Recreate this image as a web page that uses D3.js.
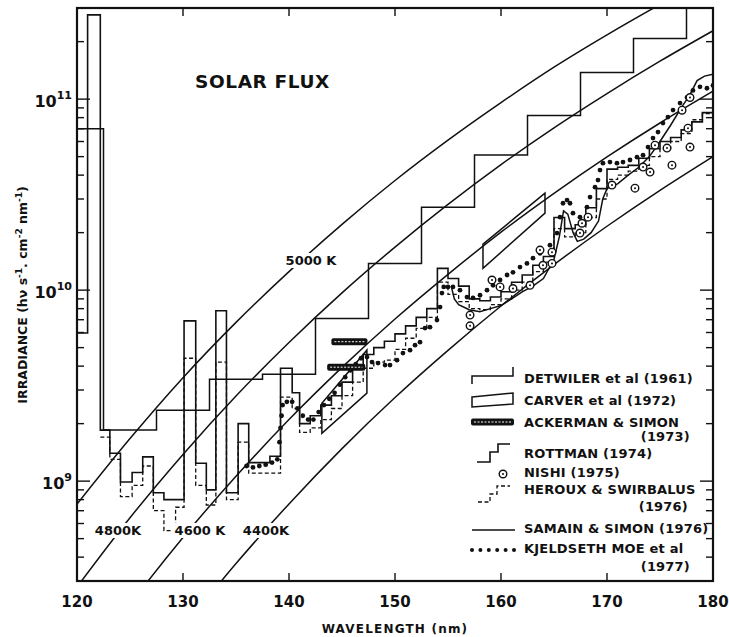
<!DOCTYPE html>
<html>
<head>
<meta charset="utf-8">
<script src="https://cdn.jsdelivr.net/npm/d3@7"></script>
<style>
  body { margin: 0; background: #fff; }
  text { font-family: "DejaVu Sans", "Liberation Sans", sans-serif; fill: #111; }
</style>
</head>
<body>
<svg id="chart" width="729" height="637"></svg>
<script>
// ---- Data (wavelength in nm, irradiance in photons s-1 cm-2 nm-1) ----

// Black-body reference curves
const bbWavelength = [120,125,130,135,140,145,150,155,160,165,170,175,180];
const bb5000 = [7.57e8,1.67e9,3.48e9,6.78e9,1.25e10,2.21e10,3.75e10,6.10e10,9.59e10,1.47e11,2.17e11,3.13e11,4.43e11];
const bb4800 = [2.79e8,6.43e8,1.38e9,2.79e9,5.32e9,9.68e9,1.68e10,2.81e10,4.54e10,7.08e10,1.07e11,1.58e11,2.28e11];
const bb4600 = [9.40e7,2.26e8,5.07e8,1.06e9,2.10e9,3.94e9,7.06e9,1.21e10,2.01e10,3.21e10,4.98e10,7.50e10,1.10e11];
const bb4400 = [2.87e7,7.24e7,1.69e8,3.70e8,7.60e8,1.48e9,2.74e9,4.84e9,8.26e9,1.36e10,2.16e10,3.33e10,5.00e10];

// Detwiler et al (1961): 5 nm bins
const detwilerEdges = [120,122.5,127.5,132.5,137.5,142.5,147.5,152.5,157.5,162.5,167.5,172.5,177.5,180];
const detwilerValues = [7.0e10,1.85e9,2.35e9,3.42e9,3.63e9,7.1e9,1.38e10,2.72e10,5.1e10,8.2e10,1.38e11,2.08e11,3.0e11];

// Carver et al (1972): range boxes, corners as [nm, irradiance]
const carverBox1 = [[143.1,1.78e9],[143.1,2.56e9],[147.35,4.85e9],[147.35,2.89e9]];
const carverBox2 = [[158.3,1.30e10],[158.3,1.74e10],[164.15,3.22e10],[164.15,2.53e10]];

// Ackerman & Simon (1973): [start nm, end nm, irradiance]
const ackermanBars = [[144.0,147.4,5.37e9],[143.6,147.2,3.95e9]];

// Rottman (1974): stepped spectrum
const rottmanEdges = [120,121.0,122.2,123.1,124.1,125.2,126.2,127.2,128.2,130.1,131.2,132.2,133.1,134.1,135.2,136.2,137.2,138.2,139.2,140.3,141.0,
  142,143,144,145,146,147,148,149,150,151,152,153,154,155,156,157,158,159,160,161,162,163,164,165,166,167,168,169,170,171,172,173,174,175,176,177,178,179,180];
const rottmanValues = [5.96e9,2.76e11,1.85e9,1.40e9,0.99e9,1.11e9,1.34e9,0.87e9,0.80e9,6.9e9,1.24e9,0.90e9,7.8e9,0.87e9,2.0e9,1.25e9,1.25e9,1.35e9,3.9e9,2.9e9,2.0e9,
  2.2e9,2.5e9,2.8e9,3.3e9,3.9e9,4.6e9,5.0e9,5.4e9,5.9e9,6.5e9,7.2e9,8.0e9,1.3e10,1.15e10,1.05e10,9.0e9,8.8e9,9.2e9,9.8e9,1.1e10,1.2e10,1.35e10,1.5e10,2.4e10,2.1e10,2.2e10,2.7e10,3.4e10,4.3e10,4.4e10,4.5e10,4.9e10,5.5e10,6.0e10,6.3e10,6.9e10,7.6e10,8.5e10];

// Heroux & Swirbalus (1976): stepped spectrum
const herouxEdges = [122.2,123.1,124.1,125.2,126.2,127.2,128.2,129.3,130.1,131.2,132.2,133.1,134.1,135.2,136.2,139.2,140.3,141.0,
  142,143,144,145,146,147,148,149,150,151,152,153,154,155,156,157,158,159,160,161,162,163,164,165,166,167,168,169,170,171,172,173,174,175,176,177,178,179,180];
const herouxValues = [1.7e9,1.3e9,0.83e9,0.95e9,1.2e9,0.70e9,0.55e9,0.73e9,4.4e9,0.95e9,0.75e9,4.2e9,0.80e9,1.6e9,1.1e9,2.75e9,2.4e9,1.8e9,
  1.9e9,2.1e9,2.4e9,2.8e9,3.3e9,3.9e9,4.2e9,4.3e9,4.9e9,5.6e9,6.3e9,7.2e9,1.1e10,9.5e9,8.7e9,8.0e9,7.9e9,8.4e9,9.0e9,1.0e10,1.1e10,1.25e10,1.4e10,2.1e10,1.9e10,2.0e10,2.4e10,3.0e10,3.8e10,4.0e10,4.2e10,4.5e10,5.0e10,5.5e10,6.0e10,6.6e10,7.8e10,8.4e10];

// Nishi (1975): individual measurements
const nishiPoints = [[157.08,7.4e9],[157.08,6.5e9],[159.15,1.13e10],[159.91,1.04e10],[161.13,1.02e10],[162.74,1.06e10],
  [163.68,1.62e10],[164.81,1.58e10],[163.96,1.35e10],[164.81,1.38e10],[167.45,1.99e10],[167.64,2.24e10],[168.21,2.41e10],
  [170.47,3.55e10],[172.64,3.42e10],[173.40,4.41e10],[174.06,4.15e10],[174.53,5.74e10],[175.66,5.54e10],[176.13,4.51e10],
  [177.08,8.75e10],[177.64,7.05e10],[177.83,1.02e11],[177.83,5.61e10]];

// Samain & Simon (1976): continuous spectrum
const samainPoints = [[155.3,1.05e10],[155.6,9.0e9],[156,8.4e9],[157,7.9e9],[158,7.7e9],[159,8.0e9],[160,8.3e9],[161,9.0e9],
  [162,9.8e9],[163,1.05e10],[164,1.15e10],[165,1.45e10],[165.5,1.9e10],[165.9,2.6e10],[166.3,2.5e10],[166.8,2.0e10],
  [167.2,1.8e10],[167.8,1.85e10],[168.5,2.0e10],[169.2,2.3e10],[169.6,3.0e10],[170,3.4e10],[171,3.6e10],[172,4.0e10],
  [173,4.4e10],[174,5.0e10],[175,6.0e10],[176,7.3e10],[177,9.0e10],[177.8,1.05e11],[178.5,1.25e11],[179.2,1.32e11],[180,1.35e11]];

// Kjeldseth Moe et al (1977): dotted spectrum
const kjeldsethPoints = [[136.0,1.2e9],[136.6,1.18e9],[137.2,1.2e9],[137.8,1.22e9],[138.4,1.25e9],[138.9,1.3e9],[139.1,1.6e9],
  [139.2,1.9e9],[139.3,2.2e9],[139.4,2.5e9],[139.8,2.6e9],[140.3,2.6e9],[140.8,2.4e9],[141.3,2.2e9],[141.8,2.1e9],[142.3,2.1e9],
  [142.8,2.3e9],[143.3,2.5e9],[143.8,2.7e9],[144.3,2.9e9],[144.8,3.2e9],[145.3,3.5e9],[145.8,3.8e9],[146.3,4.1e9],[146.8,4.4e9],
  [147.36,4.46e9],[147.83,4.2e9],[148.4,4.15e9],[149.06,4.05e9],[149.53,4.05e9],[150.19,4.3e9],[150.75,4.68e9],[151.42,4.85e9],
  [151.89,5.15e9],[152.36,5.34e9],[152.83,6.33e9],[153.3,6.4e9],[153.96,6.97e9],[154.25,8.15e9],[154.43,9.65e9],[154.6,1.04e10],
  [155.0,1.04e10],[155.47,1.04e10],[156.13,1.0e10],[156.79,9.2e9],[157.36,9.1e9],[158.02,9.4e9],[158.68,1.0e10],[159.25,1.06e10],
  [159.91,1.13e10],[160.57,1.2e10],[161.13,1.24e10],[161.79,1.32e10],[162.45,1.38e10],[163.02,1.47e10],[163.68,1.56e10],
  [164.62,1.72e10],[165.28,1.99e10],[165.57,2.41e10],[165.85,2.85e10],[166.23,2.96e10],[166.51,2.85e10],[166.79,2.53e10],
  [167.45,2.41e10],[168.11,2.72e10],[168.40,3.07e10],[168.87,3.46e10],[169.15,3.77e10],[169.34,4.25e10],[169.62,4.62e10],
  [170.28,4.68e10],[170.94,4.62e10],[171.51,4.68e10],[172.17,4.8e10],[172.83,4.97e10],[173.40,5.09e10],[173.87,5.61e10],
  [174.34,6.25e10],[174.81,6.72e10],[175.28,7.49e10],[175.75,8.05e10],[176.23,8.76e10],[176.89,9.53e10],[177.55,1.02e11],
  [178.11,1.11e11],[178.77,1.16e11],[179.43,1.14e11],[180.0,1.18e11]];

// Axis ticks
const xTicks = [120,130,140,150,160,170,180];
const yMajor = [1e9,1e10,1e11];
const yExponents = ["9","10","11"];

// ---- Layout ----
const svg = d3.select("#chart");
const x = d3.scaleLinear().domain([120,180]).range([77,713]);
const y = d3.scaleLog().domain([3e8,3e11]).range([581,8]);

svg.append("defs").append("clipPath").attr("id","plot")
  .append("rect").attr("x",77).attr("y",8).attr("width",636).attr("height",573);

const plot = svg.append("g").attr("clip-path","url(#plot)");
const ink = "#111";

const lineXY = d3.line().x(d => x(d[0])).y(d => y(d[1]));
function stepPoints(edges, values) {
  const pts = values.map((v,i) => [edges[i], v]);
  pts.push([edges[edges.length-1], values[values.length-1]]);
  return pts;
}
const stepLine = d3.line().x(d => x(d[0])).y(d => y(d[1])).curve(d3.curveStepAfter);

// Black-body curves
const bbLine = d3.line().x((d,i) => x(bbWavelength[i])).y(d => y(d)).curve(d3.curveMonotoneX);
[bb5000, bb4800, bb4600, bb4400].forEach(s => {
  plot.append("path").attr("d", bbLine(s)).attr("fill","none").attr("stroke",ink).attr("stroke-width",1.5);
});

// Detwiler
plot.append("path").attr("d", stepLine(stepPoints(detwilerEdges, detwilerValues)))
  .attr("fill","none").attr("stroke",ink).attr("stroke-width",1.5);

// Heroux & Swirbalus (dashed)
plot.append("path").attr("d", stepLine(stepPoints(herouxEdges, herouxValues)))
  .attr("fill","none").attr("stroke",ink).attr("stroke-width",1.3).attr("stroke-dasharray","4,2.5");

// Rottman
plot.append("path").attr("d", stepLine(stepPoints(rottmanEdges, rottmanValues)))
  .attr("fill","none").attr("stroke",ink).attr("stroke-width",1.6);

// Carver boxes
[carverBox1, carverBox2].forEach(b => {
  plot.append("path").attr("d", lineXY(b) + "Z").attr("fill","none").attr("stroke",ink).attr("stroke-width",1.5);
});

// Ackerman & Simon bars
function ackermanBar(g, x0, x1, yy) {
  g.append("rect").attr("x",x0).attr("y",yy-3.5).attr("width",x1-x0).attr("height",7).attr("rx",2).attr("fill",ink);
  g.append("line").attr("x1",x0+3).attr("x2",x1-3).attr("y1",yy).attr("y2",yy)
    .attr("stroke","#fff").attr("stroke-width",1).attr("stroke-dasharray","2,1.5");
}
ackermanBars.forEach(b => ackermanBar(plot, x(b[0]), x(b[1]), y(b[2])));

// Samain & Simon
plot.append("path").attr("d", lineXY(samainPoints)).attr("fill","none").attr("stroke",ink).attr("stroke-width",1.5);

// Kjeldseth Moe
plot.selectAll("circle.km").data(kjeldsethPoints).join("circle").attr("class","km")
  .attr("cx", d => x(d[0])).attr("cy", d => y(d[1])).attr("r",2.4).attr("fill",ink);

// Nishi
const nishi = plot.selectAll("g.nishi").data(nishiPoints).join("g").attr("class","nishi")
  .attr("transform", d => `translate(${x(d[0])},${y(d[1])})`);
nishi.append("circle").attr("r",3.8).attr("fill","#fff").attr("stroke",ink).attr("stroke-width",1.4);
nishi.append("circle").attr("r",1).attr("fill",ink);

// Curve temperature labels (with a white gap behind)
const bbLabels = [["5000 K",311,260],["4800K",118,530],["4600 K",200,530],["4400K",266,530]];
bbLabels.forEach(([t,cx,cy]) => {
  const tx = svg.append("text").attr("x",cx).attr("y",cy+5).attr("text-anchor","middle")
    .attr("font-size",13).attr("font-weight","bold").text(t);
  const bb = tx.node().getBBox();
  svg.insert("rect", "text").attr("x",bb.x-2).attr("y",bb.y).attr("width",bb.width+4).attr("height",bb.height).attr("fill","#fff");
});

// ---- Frame and ticks ----
svg.append("rect").attr("x",77).attr("y",8).attr("width",636).attr("height",573)
  .attr("fill","none").attr("stroke",ink).attr("stroke-width",2.2);

const tickG = svg.append("g").attr("stroke",ink).attr("stroke-width",1.4);
xTicks.slice(1,-1).forEach(t => {
  tickG.append("line").attr("x1",x(t)).attr("x2",x(t)).attr("y1",581).attr("y2",573);
  tickG.append("line").attr("x1",x(t)).attr("x2",x(t)).attr("y1",8).attr("y2",16);
});
const yDomain = y.domain();
for (let e = 8; e <= 11; e++) {
  for (let m = 1; m <= 9; m++) {
    const v = m * Math.pow(10, e);
    if (v <= yDomain[0] || v >= yDomain[1]) continue;
    const len = m === 1 ? 13 : 7;
    tickG.append("line").attr("x1",77).attr("x2",77+len).attr("y1",y(v)).attr("y2",y(v));
    tickG.append("line").attr("x1",713).attr("x2",713-len).attr("y1",y(v)).attr("y2",y(v));
  }
}

// Tick labels
svg.selectAll("text.xt").data(xTicks).join("text").attr("class","xt")
  .attr("x", d => x(d)).attr("y",607).attr("text-anchor","middle")
  .attr("font-size",15).attr("font-weight","bold").text(d => d);

yMajor.forEach((v,i) => {
  const t = svg.append("text").attr("x",72).attr("y",y(v)+8).attr("text-anchor","end")
    .attr("font-size",16).attr("font-weight","bold");
  t.append("tspan").text("10");
  t.append("tspan").attr("font-size",11).attr("dy",-8).text(yExponents[i]);
});

// Axis titles
svg.append("text").attr("x",395).attr("y",633).attr("text-anchor","middle")
  .attr("font-size",12).attr("font-weight","bold").attr("letter-spacing",1.2).text("WAVELENGTH (nm)");

const yt = svg.append("text").attr("transform","translate(27,295) rotate(-90)").attr("text-anchor","middle")
  .attr("font-size",12.5).attr("font-weight","bold");
yt.append("tspan").text("IRRADIANCE  (hν s");
yt.append("tspan").attr("font-size",9).attr("dy",-5).text("-1");
yt.append("tspan").attr("dy",5).text(". cm");
yt.append("tspan").attr("font-size",9).attr("dy",-5).text("-2");
yt.append("tspan").attr("dy",5).text(" nm");
yt.append("tspan").attr("font-size",9).attr("dy",-5).text("-1");
yt.append("tspan").attr("dy",5).text(")");

svg.append("text").attr("x",195).attr("y",88).attr("font-size",18.5).attr("font-weight","bold")
  .attr("letter-spacing",0.6).text("SOLAR FLUX");

// ---- Legend ----
const lg = svg.append("g");
const lgText = [
  ["DETWILER et al (1961)",524,383,"start"],
  ["CARVER et al (1972)",524,405,"start"],
  ["ACKERMAN & SIMON",524,427,"start"],
  ["(1973)",690,441,"end"],
  ["ROTTMAN (1974)",524,458,"start"],
  ["NISHI (1975)",524,477,"start"],
  ["HEROUX & SWIRBALUS",524,494,"start"],
  ["(1976)",688,511,"end"],
  ["SAMAIN & SIMON (1976)",524,533,"start"],
  ["KJELDSETH MOE et al",524,553,"start"],
  ["(1977)",690,571,"end"]
];
lgText.forEach(([t,tx,ty,a]) => {
  lg.append("text").attr("x",tx).attr("y",ty).attr("text-anchor",a).attr("font-size",13)
    .attr("font-weight","bold").attr("letter-spacing",0.2).text(t);
});
// legend symbols
lg.append("path").attr("d","M472,384 V376 H513 V367").attr("fill","none").attr("stroke",ink).attr("stroke-width",1.5);
lg.append("path").attr("d","M472,397 L513,393 V404 L472,407 Z").attr("fill","none").attr("stroke",ink).attr("stroke-width",1.5);
ackermanBar(lg, 471, 514, 422);
lg.append("path").attr("d","M477,462 H490 V452 H498 V444 H510").attr("fill","none").attr("stroke",ink).attr("stroke-width",1.6);
const ln = lg.append("g").attr("transform","translate(503,474)");
ln.append("circle").attr("r",3.8).attr("fill","#fff").attr("stroke",ink).attr("stroke-width",1.4);
ln.append("circle").attr("r",1).attr("fill",ink);
lg.append("path").attr("d","M478,502 H490 V494 H497 V486 H510").attr("fill","none").attr("stroke",ink)
  .attr("stroke-width",1.3).attr("stroke-dasharray","4,2.5");
lg.append("line").attr("x1",472).attr("x2",515).attr("y1",530).attr("y2",530).attr("stroke",ink).attr("stroke-width",1.5);
d3.range(6).forEach(i => lg.append("circle").attr("cx",472+i*8.4).attr("cy",550).attr("r",2).attr("fill",ink));
</script>
</body>
</html>
